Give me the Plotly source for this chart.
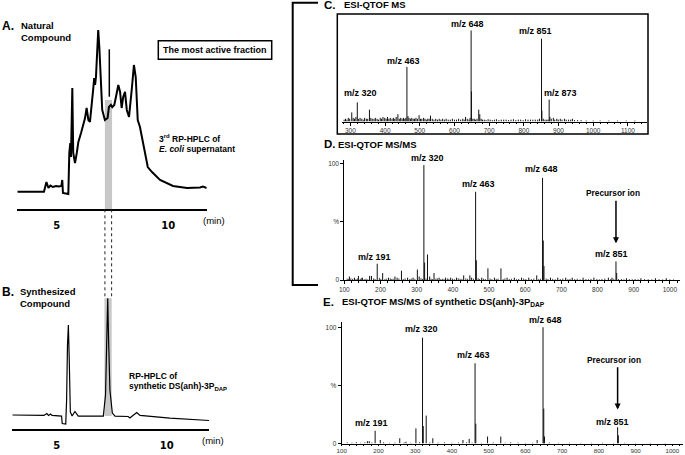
import plotly.graph_objects as go

W, H = 685, 455


def px(x):
    return x / W


def py(y):
    return 1 - y / H


FONT = "Liberation Sans, Arial, sans-serif"

# -------------------------------------
# DATA
# -------------------------------------

# A. natural compound, 3rd RP-HPLC (retention time in min, relative signal)
a_time = [3.235, 4.43, 4.54, 4.63, 4.72, 4.83, 4.97, 5.10, 5.21, 5.25,
          5.28, 5.52, 5.565, 5.61, 5.64, 5.70, 5.74, 5.82, 5.90, 5.97,
          6.09, 6.19, 6.27, 6.34, 6.42, 6.49, 6.57, 6.64, 6.68, 6.72,
          6.76, 6.82, 6.86, 6.91, 6.97, 7.04, 7.16, 7.28, 7.34, 7.43,
          7.49, 7.58, 7.69, 7.76, 7.84, 7.91, 7.98, 8.06, 8.14, 8.24,
          8.36, 8.46, 8.54, 8.63, 8.73, 8.84, 8.96, 9.08, 9.27, 9.63,
          10.21, 10.84, 11.42, 11.55, 11.72]
a_signal = [0, 0, 6.0, 2.3, 3.8, 2.9, 3.5, 3.2, 3.5, 7.2,
            -0.8, -1.4, 23.9, 30.0, 21.4, 63.9, 23.9, 17.7, 23.9, 30.6,
            36.2, 41.1, 45.4, 51.6, 44.2, 43.0, 52.2, 63.9, 70.1, 65.8,
            70.7, 93.5, 99.7, 89.2, 67.0, 50.4, 44.2, 45.4, 52.2, 53.5,
            52.2, 53.5, 60.8, 65.8, 61.5, 51.6, 58.4, 61.5, 50.4, 46.1,
            62.7, 78.1, 70.7, 44.2, 39.9, 31.9, 23.9, 15.2, 12.1, 7.2,
            3.5, 2.3, 2.6, 3.2, 2.3]

# B. synthetic DS(anh)-3P_DAP, RP-HPLC
b_time = [2.98, 4.42, 4.55, 4.63, 4.72, 4.79, 5.22, 5.25, 5.41, 5.45,
          5.49, 5.53, 5.57, 5.62, 5.70, 5.83, 5.98, 7.12, 7.22, 7.27,
          7.32, 7.36, 7.42, 7.53, 7.65, 8.25, 8.33, 8.41, 8.64, 8.79,
          10.15, 11.94]
b_signal = [0, -0.4, 1.3, -0.4, 0.9, -0.4, -0.9, -7.3, -7.7, 12.9,
            60, 77.1, 47.1, 2.6, -0.9, 3.0, -0.9, -0.9, 17.1, 64.3,
            100, 64.3, 21.4, 1.7, -0.9, -1.3, -2.6, -1.3, 2.1, -0.4,
            -2.6, -4.7]

active_fraction = [7.16, 7.48]   # min
rt_ticks = [5, 10]

# C. ESI-QTOF MS of the most active fraction (m/z, relative %)
c_peak_mz = [304, 320, 355, 437, 463, 466, 498, 531, 632, 648, 649,
             670, 673, 851, 852, 873, 875, 885, 895, 905, 917, 940]
c_peak_int = [10, 21, 13, 8, 60, 6, 7, 6.5, 5, 100, 33,
              13, 8, 91, 12, 24, 5, 4, 3, 3, 3, 3]
c_noise_mz = [282, 286, 290, 294, 298, 308, 312, 316, 324, 328,
              333, 337, 341, 346, 350, 359, 363, 368, 372, 377,
              381, 386, 390, 394, 399, 403, 407, 411, 415, 420,
              424, 428, 432, 441, 445, 449, 453, 457, 460, 469,
              473, 477, 481, 485, 489, 493, 502, 506, 511, 515,
              519, 523, 527, 536, 541, 546, 551, 556, 561, 566,
              571, 576, 582, 588, 594, 600, 606, 612, 618, 624,
              628, 637, 642, 645, 653, 657, 661, 665, 677, 681,
              686, 691, 697, 703, 709, 715, 721, 728, 735, 742,
              749, 756, 763, 770, 777, 784, 791, 798, 805, 812,
              819, 826, 833, 840, 845, 856, 861, 866, 870, 879,
              889, 899, 910, 922, 929, 935, 946, 955, 965, 980,
              1000, 1020, 1045, 1070, 1095, 1120]
c_noise_int = [2, 3, 2, 4, 3, 4, 3, 5, 3, 4,
               3, 2, 4, 3, 3, 4, 3, 3, 4, 3,
               2, 4, 3, 5, 4, 3, 5, 3, 4, 3,
               4, 3, 5, 3, 4, 3, 4, 3, 4, 4,
               3, 4, 3, 3, 4, 3, 3, 3, 4, 3,
               2, 3, 3, 3, 2, 3, 2, 3, 2, 3,
               2, 3, 2, 2, 3, 2, 2, 3, 2, 3,
               2, 3, 2, 4, 3, 3, 2, 3, 3, 2,
               2, 1.5, 2.5, 2, 1.5, 2, 2.5, 1.5, 2, 2,
               2, 1.5, 2, 2.5, 1.5, 2, 2, 1.5, 2.5, 2,
               2, 2, 2, 2, 3, 3, 2, 2, 2, 3,
               2, 2, 2, 2, 2, 2, 1.5, 1.5, 1.5, 1,
               1, 1, 1, 1, 1, 1]

# D. ESI-QTOF MS/MS of m/z 851 (natural)
d_peak_mz = [114, 128, 139, 150, 170, 175, 191, 206, 222, 240,
             246, 258, 275, 290, 302, 307, 320, 322, 330, 336,
             348, 362, 380, 394, 410, 430, 447, 452, 463, 465,
             480, 497, 515, 533, 550, 570, 590, 610, 632, 648,
             650, 652, 670, 690, 712, 730, 760, 790, 830, 840,
             851, 853, 880, 920, 960, 990]
d_peak_int = [3, 2, 3.5, 2, 3.5, 3.5, 14, 6, 2, 3,
              2, 8, 2, 2, 9, 3, 99, 15, 22, 3,
              6, 2, 2, 2, 2, 4, 4, 2, 76, 17,
              2, 10, 2, 10, 2, 2, 2, 2, 4, 88,
              34, 12, 2, 2, 2, 2, 2, 2, 2, 2,
              16, 6, 1.5, 1.5, 1.5, 1.5]
d_noise_mz = [108, 112, 118, 123, 132, 136, 144, 147, 155, 160,
              165, 181, 185, 197, 201, 212, 216, 227, 231, 235,
              251, 263, 268, 281, 285, 295, 312, 316, 326, 340,
              344, 353, 357, 367, 372, 376, 385, 389, 399, 404,
              415, 420, 425, 436, 441, 457, 470, 474, 485, 490,
              503, 508, 520, 525, 539, 544, 556, 562, 576, 582,
              596, 602, 617, 624, 637, 642, 658, 663, 676, 683,
              697, 704, 718, 724, 737, 744, 752, 768, 775, 782,
              798, 805, 812, 820, 836, 845, 858, 866, 873, 888,
              896, 904, 912, 930, 940, 950, 970, 980, 1000, 1010]
d_noise_int = [1.2, 0.8, 1.5, 1.0, 0.7, 1.3, 0.9, 1.6, 0.8, 1.1,
               0.6, 1.4, 0.9, 1.8, 1.0, 0.7, 1.2, 1.5, 0.8, 1.1,
               1.3, 0.9, 1.4, 0.8, 1.2, 1.0, 1.6, 0.9, 1.3, 1.1,
               0.8, 1.2, 1.5, 0.9, 1.1, 0.7, 1.3, 1.0, 1.2, 0.8,
               1.5, 1.1, 0.9, 1.4, 1.0, 1.2, 1.6, 0.8, 1.1, 0.9,
               1.3, 0.7, 1.0, 1.2, 0.8, 1.4, 0.9, 1.1, 0.7, 1.0,
               1.3, 0.8, 0.9, 1.2, 0.7, 1.1, 1.3, 0.8, 1.0, 0.6,
               0.9, 1.2, 0.7, 1.0, 0.8, 1.1, 0.6, 0.9, 0.7, 1.0,
               0.8, 0.6, 0.9, 1.2, 0.7, 1.0, 0.8, 0.9, 0.6, 0.8,
               0.7, 0.9, 0.6, 0.8, 0.7, 0.6, 0.7, 0.5, 0.6, 0.5]

# E. ESI-QTOF MS/MS of synthetic DS(anh)-3P_DAP
e_peak_mz = [170, 175, 191, 205, 258, 275, 302, 320, 322, 330, 348, 430,
             447, 463, 465, 497, 533, 632, 648, 650, 652, 851, 853]
e_peak_int = [2, 2, 11, 3, 4.5, 1.5, 13, 91, 15, 24, 4.5, 3,
              4, 69, 17, 6, 6, 3, 100, 30, 6, 14, 7]
e_noise_mz = [115, 128, 140, 152, 163, 182, 214, 230, 245, 270,
              288, 312, 340, 362, 380, 400, 418, 440, 455, 480,
              512, 545, 560, 580, 600, 620, 665, 690, 720, 750,
              780, 810, 840, 870, 900, 940, 980]
e_noise_int = [1, 0.8, 1.2, 0.7, 1, 0.9, 1.1, 0.6, 0.8, 1,
               0.7, 1.2, 0.9, 0.8, 1, 0.7, 0.9, 1.1, 0.8, 0.6,
               0.9, 0.7, 1, 0.8, 0.6, 0.7, 0.9, 0.6, 0.7, 0.5,
               0.6, 0.7, 0.5, 0.6, 0.5, 0.6, 0.5]

c_ticks = [300, 400, 500, 600, 700, 800, 900, 1000, 1100]
de_ticks = [100, 200, 300, 400, 500, 600, 700, 800, 900, 1000]

# peak label texts and the m/z they sit over
c_label_text = ["m/z 648", "m/z 851", "m/z 463", "m/z 320", "m/z 873"]
c_label_mz = [639, 835, 454, 328, 907]
d_label_text = ["m/z 320", "m/z 648", "m/z 463", "m/z 191", "m/z 851"]
d_label_mz = [330, 645, 470, 183, 839]
e_label_text = ["m/z 320", "m/z 648", "m/z 463", "m/z 191", "m/z 851"]
e_label_mz = [317, 655, 460, 182, 837]


# -------------------------------------
# FUNCTIONS
# -------------------------------------

def sticks(mz, inten):
    xs, ys = [], []
    for m, h in zip(mz, inten):
        xs += [m, m, None]
        ys += [0, h, None]
    return xs, ys


def add_spectrum(fig, mz, inten, ax, width=1.0, color="#111"):
    xs, ys = sticks(mz, inten)
    fig.add_trace(go.Scatter(x=xs, y=ys, mode="lines", xaxis="x" + ax, yaxis="y" + ax,
                             line=dict(color=color, width=width), hoverinfo="skip"))


def txt(x, y, s, size=9, xanchor="left", xref="paper", yref="paper", color="black", bold=True):
    return dict(x=x, y=y, xref=xref, yref=yref, text=f"<b>{s}</b>" if bold else s,
                showarrow=False, xanchor=xanchor, yanchor="middle",
                font=dict(family=FONT, size=size, color=color))


def arrow(x, y, ax, ay, **kw):
    d = dict(x=x, y=y, ax=ax, ay=ay, text="", showarrow=True, arrowhead=2,
             arrowsize=0.8, arrowwidth=1.5, arrowcolor="black")
    d.update(kw)
    return d


# -------------------------------------
# FIGURE
# -------------------------------------

fig = go.Figure()

fig.add_trace(go.Scatter(x=a_time, y=a_signal, mode="lines", xaxis="x", yaxis="y",
                         line=dict(color="black", width=2), hoverinfo="skip"))
fig.add_trace(go.Scatter(x=b_time, y=b_signal, mode="lines", xaxis="x2", yaxis="y2",
                         line=dict(color="black", width=1.2), hoverinfo="skip"))

add_spectrum(fig, c_noise_mz, c_noise_int, "3", width=1.0)
add_spectrum(fig, c_peak_mz, c_peak_int, "3", width=1.0)
add_spectrum(fig, d_noise_mz, d_noise_int, "4", width=0.8)
add_spectrum(fig, d_peak_mz, d_peak_int, "4", width=1.0)
add_spectrum(fig, e_noise_mz, e_noise_int, "5", width=0.8)
add_spectrum(fig, e_peak_mz, e_peak_int, "5", width=1.0)

rt_axis = dict(showline=True, linecolor="black", linewidth=1.5, showgrid=False,
               zeroline=False, ticks="", tickvals=rt_ticks, automargin=False,
               ticktext=[str(t) for t in rt_ticks], ticklabelstandoff=6,
               tickfont=dict(family="DejaVu Sans", size=10, color="black", weight="bold"))
hidden_y = dict(visible=False, showgrid=False, zeroline=False, automargin=False)

ms_x = dict(showline=True, linecolor="black", linewidth=1, showgrid=False, zeroline=False,
            ticks="outside", ticklen=3, tickwidth=0.8, tickcolor="black", automargin=False,
            minor=dict(dtick=20, ticks="outside", ticklen=1.5, tickcolor="black", tickwidth=0.6),
            tickfont=dict(family=FONT, size=6.5, color="#333"))
ms_y = dict(showline=True, linecolor="black", linewidth=1, showgrid=False, zeroline=False,
            ticks="outside", ticklen=3, tickwidth=0.8, tickcolor="black", automargin=False,
            tickvals=[0, 50, 100], ticktext=["0", "%", "100"],
            tickfont=dict(family=FONT, size=6.5, color="#333"))
# bottom panel sits against the page edge: shorter ticks keep its labels inside
ms_x_bottom = dict(ms_x, ticklen=1.5, tickfont=dict(family=FONT, size=6.2, color="#333"))

fig.update_layout(
    width=W, height=H,
    margin=dict(l=0, r=0, t=0, b=0, autoexpand=False),
    paper_bgcolor="white", plot_bgcolor="rgba(0,0,0,0)",
    showlegend=False,
    xaxis=dict(domain=[px(17.3), px(206.7)], range=[3.235, 11.72], anchor="y", **rt_axis),
    yaxis=dict(domain=[py(209.3), py(10)], range=[-10.85, 112], anchor="x", **hidden_y),
    xaxis2=dict(domain=[px(12.3), px(209.3)], range=[2.98, 11.94], anchor="y2", **rt_axis),
    yaxis2=dict(domain=[py(429.3), py(290)], range=[-12.25, 107.1], anchor="x2", **hidden_y),
    xaxis3=dict(domain=[px(341.7), px(647)], range=[275, 1155], anchor="y3",
                tickvals=c_ticks, **ms_x),
    yaxis3=dict(domain=[py(121.5), py(16)], range=[0, 115.9], anchor="x3", **hidden_y),
    xaxis4=dict(domain=[px(344.3), px(680)], range=[100, 1028], anchor="y4",
                tickvals=de_ticks, **ms_x),
    yaxis4=dict(domain=[py(280), py(160)], range=[0, 103.4], anchor="x4", **ms_y),
    xaxis5=dict(domain=[px(341.7), px(683)], range=[100, 1029], anchor="y5",
                tickvals=de_ticks, **ms_x_bottom),
    yaxis5=dict(domain=[py(443.5), py(322)], range=[0, 104.5], anchor="x5", **ms_y),
)

shapes = [
    # active fraction shading
    dict(type="rect", xref="x", yref="y", x0=active_fraction[0], x1=active_fraction[1],
         y0=-10.85, y1=56.5, fillcolor="#c8c8c8", line=dict(width=0), layer="below"),
    dict(type="rect", xref="x2", yref="y2", x0=7.17, x1=7.5, y0=-0.9, y1=100,
         fillcolor="#c8c8c8", line=dict(width=0), layer="below"),
    # dotted connectors A -> B
    dict(type="line", xref="x", yref="paper", x0=active_fraction[0], x1=active_fraction[0],
         y0=py(209.3), y1=py(298.3), line=dict(color="#222", width=1, dash="dot")),
    dict(type="line", xref="x", yref="paper", x0=7.46, x1=7.46,
         y0=py(209.3), y1=py(298.3), line=dict(color="#222", width=1, dash="dot")),
    # fraction -> box
    dict(type="line", xref="paper", yref="paper", x0=px(109.3), x1=px(109.3),
         y0=py(96.7), y1=py(49.3), line=dict(color="black", width=1.5)),
    dict(type="rect", xref="paper", yref="paper", x0=px(158.3), x1=px(271.7),
         y0=py(59.3), y1=py(40.7), line=dict(color="black", width=1.5)),
    # bracket C/D
    dict(type="path", xref="paper", yref="paper",
         path=f"M {px(318)},{py(2.7)} L {px(292.7)},{py(2.7)} L {px(292.7)},{py(285)} L {px(318)},{py(285)}",
         line=dict(color="black", width=2)),
    # C frame
    dict(type="rect", xref="paper", yref="paper", x0=px(337.3), x1=px(648),
         y0=py(134), y1=py(14), line=dict(color="black", width=1.5)),
]
fig.update_layout(shapes=shapes)

ann = [
    txt(px(0), py(26), "A.", size=12),
    txt(px(19), py(25), "Natural", size=9.5),
    txt(px(19), py(37.3), "Compound", size=9.5),
    txt(px(157), py(138.3), "3<sup>rd</sup> RP-HPLC of", size=8.5),
    txt(px(157), py(148.7), "<i>E. coli</i> supernatant", size=8.5),
    txt(px(213.5), py(220.7), "(min)", size=9.5, xanchor="center", bold=False),
    txt(px(0), py(291.7), "B.", size=12),
    txt(px(18.3), py(291.7), "Synthesized", size=9.5),
    txt(px(18.3), py(303.3), "Compound", size=9.5),
    txt(px(126.7), py(375.7), "RP-HPLC of", size=8.5),
    txt(px(126.7), py(386), "synthetic DS(anh)-3P<sub>DAP</sub>", size=8.5),
    txt(px(213), py(440.7), "(min)", size=9.5, xanchor="center", bold=False),
    txt(px(215), py(50), "The most active fraction", size=9, xanchor="center"),
    txt(px(322), py(5.5), "C.", size=11.5),
    txt(px(342), py(5), "ESI-QTOF MS", size=9.5),
    txt(px(322), py(144), "D.", size=11.5),
    txt(px(335.5), py(144), "ESI-QTOF MS/MS", size=9.5),
    txt(px(320.5), py(302.3), "E.", size=11.5),
    txt(px(340), py(302.3), "ESI-QTOF MS/MS of synthetic DS(anh)-3P<sub>DAP</sub>", size=9.5),
    txt(841.5, py(193.3), "Precursor ion", size=8.3, xanchor="center", xref="x4"),
    txt(842.5, py(360), "Precursor ion", size=8.3, xanchor="center", xref="x5"),
    arrow(px(157.5), py(49.3), -47, 0),
    arrow(px(291.5), py(50), -19, 0),
    arrow(px(318), py(305), -198, 0),
    arrow(851, 31.6, 851, 69.6, xref="x4", yref="y4", axref="x4", ayref="y4"),
    arrow(851, 29.2, 851, 66.8, xref="x5", yref="y5", axref="x5", ayref="y5"),
]

# label heights in the page (pixels from top)
c_label_y = [24, 30.7, 60.7, 93.3, 92.7]
d_label_y = [158.3, 169.3, 184.3, 256.7, 254.3]
e_label_y = [329, 320, 355, 423.3, 421.7]
for texts, mzs, ys, ax in [(c_label_text, c_label_mz, c_label_y, "3"),
                           (d_label_text, d_label_mz, d_label_y, "4"),
                           (e_label_text, e_label_mz, e_label_y, "5")]:
    for s, x, y in zip(texts, mzs, ys):
        ann.append(txt(x, py(y), s, size=9, xanchor="center", xref="x" + ax))

fig.update_layout(annotations=ann)

# the page body has a default 8px margin; drop it so the figure fills the window
fig.write_html("out.html", config={"displayModeBar": False},
               post_script="document.body.style.margin='0';")
